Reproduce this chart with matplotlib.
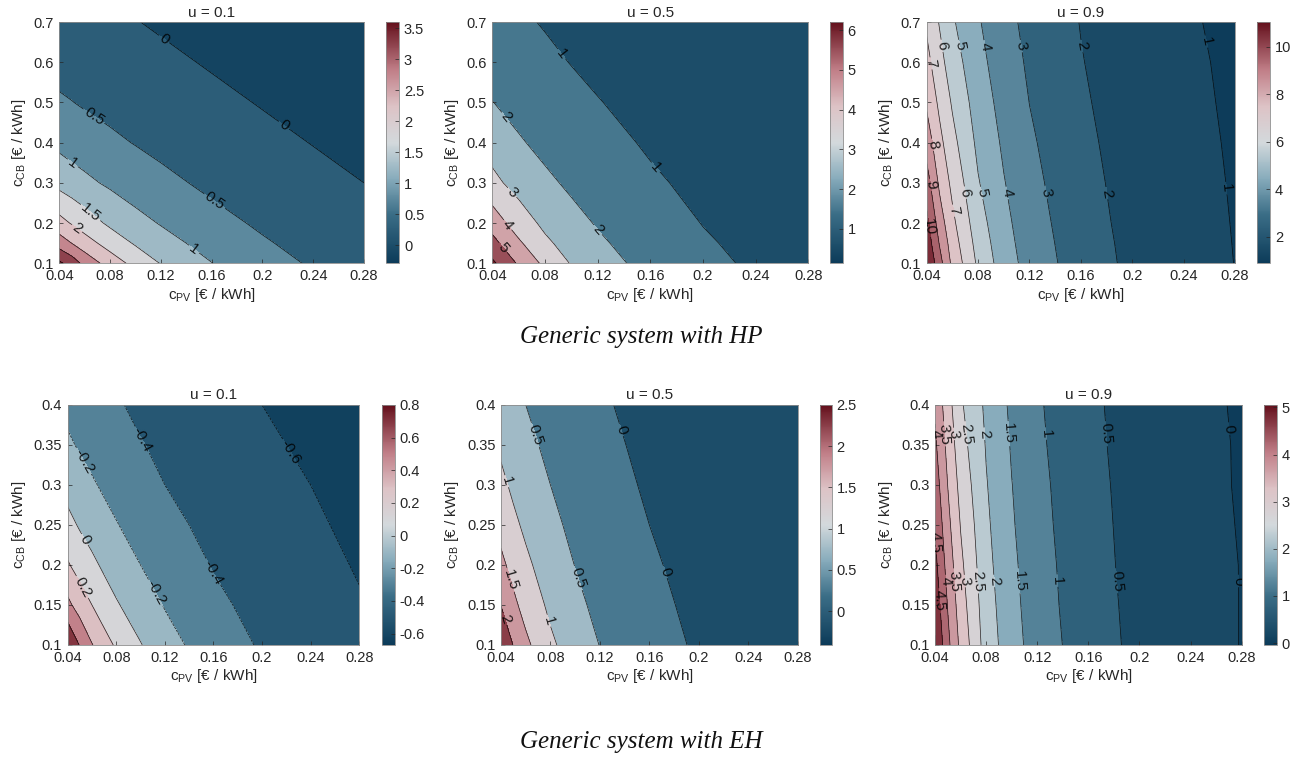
import numpy as np
import matplotlib
matplotlib.use("Agg")
import matplotlib.pyplot as plt
from matplotlib.colors import LinearSegmentedColormap, Normalize
from matplotlib.cm import ScalarMappable

plt.rcParams['font.family'] = ['Liberation Sans', 'DejaVu Sans']
plt.rcParams['mathtext.fontset'] = 'custom'
plt.rcParams['mathtext.rm'] = 'Liberation Sans'
plt.rcParams['mathtext.it'] = 'Liberation Sans:italic'

# grid of the two cost parameters
c_pv = [0.04, 0.05, 0.06, 0.08, 0.10, 0.12, 0.16, 0.20, 0.24, 0.28]
c_cb_hp = [0.1, 0.15, 0.2, 0.3, 0.4, 0.5, 0.6, 0.7]
c_cb_eh = [0.1, 0.15, 0.2, 0.25, 0.3, 0.35, 0.4]

# values (rows = c_cb, cols = c_pv)
hp_u01 = [
    [3.60, 3.28, 2.85, 2.28, 1.84, 1.48, 1.01, 0.68, 0.45, 0.27],
    [2.77, 2.49, 2.22, 1.79, 1.45, 1.19, 0.81, 0.55, 0.34, 0.19],
    [2.17, 1.96, 1.75, 1.41, 1.16, 0.97, 0.65, 0.43, 0.25, 0.12],
    [1.35, 1.22, 1.11, 0.92, 0.75, 0.62, 0.40, 0.23, 0.10, 0.00],
    [0.88, 0.79, 0.72, 0.59, 0.48, 0.38, 0.21, 0.09, -0.01, -0.09],
    [0.56, 0.51, 0.45, 0.36, 0.27, 0.20, 0.08, -0.02, -0.10, -0.17],
    [0.34, 0.29, 0.25, 0.18, 0.12, 0.07, -0.03, -0.11, -0.18, -0.23],
    [0.17, 0.14, 0.11, 0.05, 0.01, -0.04, -0.12, -0.18, -0.24, -0.29],
]
hp_u05 = [
    [6.20, 5.54, 4.87, 3.77, 2.94, 2.40, 1.68, 1.20, 0.88, 0.63],
    [5.36, 4.70, 4.15, 3.20, 2.58, 2.15, 1.51, 1.09, 0.79, 0.57],
    [4.55, 4.03, 3.52, 2.78, 2.29, 1.93, 1.36, 0.98, 0.71, 0.51],
    [3.30, 2.94, 2.64, 2.19, 1.84, 1.54, 1.11, 0.81, 0.58, 0.41],
    [2.52, 2.29, 2.10, 1.75, 1.47, 1.25, 0.91, 0.66, 0.47, 0.33],
    [2.02, 1.84, 1.68, 1.41, 1.20, 1.03, 0.75, 0.54, 0.38, 0.25],
    [1.61, 1.47, 1.36, 1.15, 0.98, 0.84, 0.61, 0.43, 0.30, 0.19],
    [1.30, 1.20, 1.11, 0.95, 0.81, 0.69, 0.50, 0.35, 0.22, 0.13],
]
hp_u09 = [
    [11.04, 9.38, 7.76, 5.82, 4.49, 3.63, 2.49, 1.80, 1.33, 0.99],
    [10.64, 8.93, 7.49, 5.62, 4.37, 3.54, 2.44, 1.77, 1.30, 0.98],
    [10.29, 8.51, 7.23, 5.42, 4.26, 3.45, 2.39, 1.73, 1.27, 0.97],
    [9.45, 7.81, 6.75, 5.07, 4.05, 3.29, 2.30, 1.67, 1.23, 0.95],
    [8.57, 7.28, 6.30, 4.78, 3.85, 3.14, 2.21, 1.61, 1.19, 0.93],
    [7.85, 6.79, 5.89, 4.53, 3.66, 2.99, 2.12, 1.55, 1.15, 0.91],
    [7.32, 6.33, 5.48, 4.30, 3.48, 2.86, 2.04, 1.49, 1.11, 0.90],
    [6.83, 5.93, 5.12, 4.09, 3.31, 2.74, 1.97, 1.44, 1.07, 0.88],
]
eh_u01 = [
    [0.80, 0.59, 0.41, 0.17, 0.01, -0.13, -0.30, -0.42, -0.51, -0.57],
    [0.45, 0.31, 0.20, 0.02, -0.11, -0.21, -0.36, -0.46, -0.54, -0.59],
    [0.22, 0.12, 0.04, -0.10, -0.20, -0.29, -0.41, -0.50, -0.56, -0.61],
    [0.06, -0.02, -0.08, -0.19, -0.28, -0.35, -0.45, -0.53, -0.58, -0.63],
    [-0.07, -0.13, -0.18, -0.27, -0.34, -0.40, -0.49, -0.56, -0.60, -0.64],
    [-0.17, -0.22, -0.26, -0.33, -0.39, -0.44, -0.52, -0.58, -0.62, -0.66],
    [-0.25, -0.29, -0.32, -0.38, -0.44, -0.48, -0.55, -0.60, -0.64, -0.67],
]
eh_u05 = [
    [2.50, 1.98, 1.61, 1.09, 0.74, 0.49, 0.16, -0.05, -0.20, -0.30],
    [1.99, 1.61, 1.32, 0.90, 0.60, 0.39, 0.10, -0.09, -0.23, -0.32],
    [1.62, 1.33, 1.10, 0.74, 0.49, 0.30, 0.05, -0.13, -0.25, -0.34],
    [1.33, 1.10, 0.91, 0.61, 0.39, 0.23, 0.00, -0.16, -0.28, -0.36],
    [1.11, 0.91, 0.75, 0.50, 0.30, 0.16, -0.05, -0.19, -0.30, -0.38],
    [0.92, 0.75, 0.61, 0.40, 0.23, 0.10, -0.09, -0.22, -0.32, -0.39],
    [0.75, 0.62, 0.50, 0.31, 0.16, 0.05, -0.13, -0.25, -0.34, -0.41],
]
eh_u09 = [
    [5.05, 4.13, 3.38, 2.28, 1.70, 1.27, 0.72, 0.38, 0.16, -0.01],
    [4.84, 3.97, 3.24, 2.22, 1.65, 1.23, 0.69, 0.37, 0.15, -0.01],
    [4.64, 3.80, 3.11, 2.15, 1.60, 1.20, 0.67, 0.35, 0.14, -0.01],
    [4.46, 3.64, 2.98, 2.09, 1.55, 1.16, 0.65, 0.34, 0.13, -0.02],
    [4.27, 3.49, 2.84, 2.03, 1.51, 1.13, 0.63, 0.33, 0.12, -0.03],
    [4.09, 3.35, 2.70, 1.97, 1.46, 1.09, 0.61, 0.31, 0.11, -0.03],
    [3.92, 3.21, 2.57, 1.91, 1.41, 1.06, 0.59, 0.30, 0.10, -0.04],
]

x_ticks = [0.04, 0.08, 0.12, 0.16, 0.2, 0.24, 0.28]
y_ticks_hp = [0.1, 0.2, 0.3, 0.4, 0.5, 0.6, 0.7]
y_ticks_eh = [0.1, 0.15, 0.2, 0.25, 0.3, 0.35, 0.4]

# where the contour labels sit (roughly as in the original figure)
spots_hp01 = [(0.121, 0.651), (0.216, 0.44), (0.066, 0.46), (0.161, 0.248),
              (0.050, 0.347), (0.146, 0.135), (0.064, 0.224), (0.053, 0.183)]
spots_hp05 = [(0.093, 0.622), (0.163, 0.336), (0.049, 0.46), (0.120, 0.183),
              (0.055, 0.276), (0.050, 0.191), (0.049, 0.142)]
spots_hp09 = [(0.048, 0.639), (0.063, 0.639), (0.084, 0.639), (0.111, 0.639),
              (0.158, 0.639), (0.257, 0.651), (0.066, 0.274), (0.081, 0.274),
              (0.101, 0.274), (0.128, 0.274), (0.179, 0.274), (0.273, 0.287),
              (0.043, 0.597), (0.061, 0.231), (0.043, 0.394), (0.043, 0.295),
              (0.041, 0.191)]
spots_eh01 = [(0.222, 0.340), (0.101, 0.356), (0.158, 0.190), (0.052, 0.329),
              (0.112, 0.165), (0.053, 0.231), (0.049, 0.170)]
spots_eh05 = [(0.135, 0.368), (0.170, 0.190), (0.066, 0.362), (0.103, 0.184),
              (0.043, 0.304), (0.078, 0.130), (0.045, 0.180), (0.042, 0.132)]
spots_eh09 = [(0.042, 0.364), (0.048, 0.364), (0.056, 0.364), (0.064, 0.364),
              (0.078, 0.364), (0.096, 0.364), (0.124, 0.364), (0.173, 0.364),
              (0.266, 0.370), (0.049, 0.180), (0.054, 0.180), (0.064, 0.180),
              (0.072, 0.180), (0.086, 0.180), (0.104, 0.180), (0.131, 0.180),
              (0.180, 0.180), (0.274, 0.180), (0.041, 0.229), (0.041, 0.155)]

cmap = LinearSegmentedColormap.from_list("rb", [
    (0.00, "#0c3b59"),
    (0.20, "#3a6d86"),
    (0.35, "#86abbb"),
    (0.50, "#d3d9dc"),
    (0.65, "#ddc3c6"),
    (0.80, "#c17f88"),
    (1.00, "#64101c"),
])

txt = "#262626"

# (axes rect, colorbar rect, c_cb grid, values, title, line levels, colorbar ticks, y ticks, label spots)
panels = [
    ([0.0456, 0.6526, 0.2342, 0.3183], [0.2967, 0.6526, 0.0100, 0.3183], c_cb_hp, hp_u01, "u = 0.1",
     [0, 0.5, 1, 1.5, 2, 2.5, 3, 3.5], [0, 0.5, 1, 1.5, 2, 2.5, 3, 3.5], y_ticks_hp, spots_hp01),
    ([0.3784, 0.6526, 0.2429, 0.3183], [0.6380, 0.6526, 0.0098, 0.3183], c_cb_hp, hp_u05, "u = 0.5",
     [1, 2, 3, 4, 5, 6], [1, 2, 3, 4, 5, 6], y_ticks_hp, spots_hp05),
    ([0.7123, 0.6526, 0.2370, 0.3183], [0.9660, 0.6526, 0.0102, 0.3183], c_cb_hp, hp_u09, "u = 0.9",
     [1, 2, 3, 4, 5, 6, 7, 8, 9, 10, 11], [2, 4, 6, 8, 10], y_ticks_hp, spots_hp09),
    ([0.0520, 0.1491, 0.2241, 0.3166], [0.2934, 0.1491, 0.0102, 0.3166], c_cb_eh, eh_u01, "u = 0.1",
     [-0.6, -0.4, -0.2, 0, 0.2, 0.4, 0.6], [-0.6, -0.4, -0.2, 0, 0.2, 0.4, 0.6, 0.8], y_ticks_eh, spots_eh01),
    ([0.3851, 0.1491, 0.2281, 0.3166], [0.6303, 0.1491, 0.0090, 0.3166], c_cb_eh, eh_u05, "u = 0.5",
     [0, 0.5, 1, 1.5, 2], [0, 0.5, 1, 1.5, 2, 2.5], y_ticks_eh, spots_eh05),
    ([0.7187, 0.1491, 0.2357, 0.3166], [0.9716, 0.1491, 0.0098, 0.3166], c_cb_eh, eh_u09, "u = 0.9",
     [0, 0.5, 1, 1.5, 2, 2.5, 3, 3.5, 4, 4.5, 5], [0, 1, 2, 3, 4, 5], y_ticks_eh, spots_eh09),
]

fig = plt.figure(figsize=(13.01, 7.58), dpi=100)

for rect, cb_rect, c_cb, values, title, levels, cb_ticks, y_ticks, spots in panels:
    Z = np.array(values)
    X, Y = np.meshgrid(c_pv, c_cb)
    zmin, zmax = Z.min(), Z.max()
    norm = Normalize(zmin, zmax)

    inner = [l for l in levels if zmin < l < zmax]
    fill_levels = [zmin] + inner + [zmax]

    ax = fig.add_axes(rect)
    ax.contourf(X, Y, Z, levels=fill_levels, cmap=cmap, norm=norm)
    cs = ax.contour(X, Y, Z, levels=inner, colors="k", linewidths=0.5, alpha=0.85)
    ax.clabel(cs, fmt=lambda v: f"{v:g}", fontsize=11, inline=True, inline_spacing=2,
              manual=spots)

    ax.set_xlim(0.04, 0.28)
    ax.set_ylim(c_cb[0], c_cb[-1])
    ax.set_xticks(x_ticks, [f"{t:g}" for t in x_ticks])
    ax.set_yticks(y_ticks, [f"{t:g}" for t in y_ticks])
    ax.tick_params(direction="in", length=3, width=0.5, labelsize=10.5, colors=txt,
                   top=False, right=False, pad=4)
    for s in ax.spines.values():
        s.set_color("#8c8c8c")
        s.set_linewidth(0.6)
    ax.set_title(title, fontsize=11, color=txt, pad=4)
    ax.set_xlabel(r"c$_{\rm PV}$ [€ / kWh]", fontsize=11, color=txt, labelpad=2)
    ax.set_ylabel(r"c$_{\rm CB}$ [€ / kWh]", fontsize=11, color=txt, labelpad=4)

    cax = fig.add_axes(cb_rect)
    cb = fig.colorbar(ScalarMappable(norm=norm, cmap=cmap), cax=cax, ticks=cb_ticks)
    cb.ax.set_yticklabels([f"{t:g}" for t in cb_ticks])
    cb.ax.tick_params(direction="in", length=3, width=0.5, labelsize=10.5, colors=txt)
    cb.outline.set_edgecolor("#8c8c8c")
    cb.outline.set_linewidth(0.6)

fig.text(0.4927, 0.5554, "Generic system with HP", family="Liberation Serif",
         style="italic", fontsize=18, ha="center", va="center", color="#111111")
fig.text(0.4927, 0.0211, "Generic system with EH", family="Liberation Serif",
         style="italic", fontsize=18, ha="center", va="center", color="#111111")

fig.savefig("out.png", dpi=100)
